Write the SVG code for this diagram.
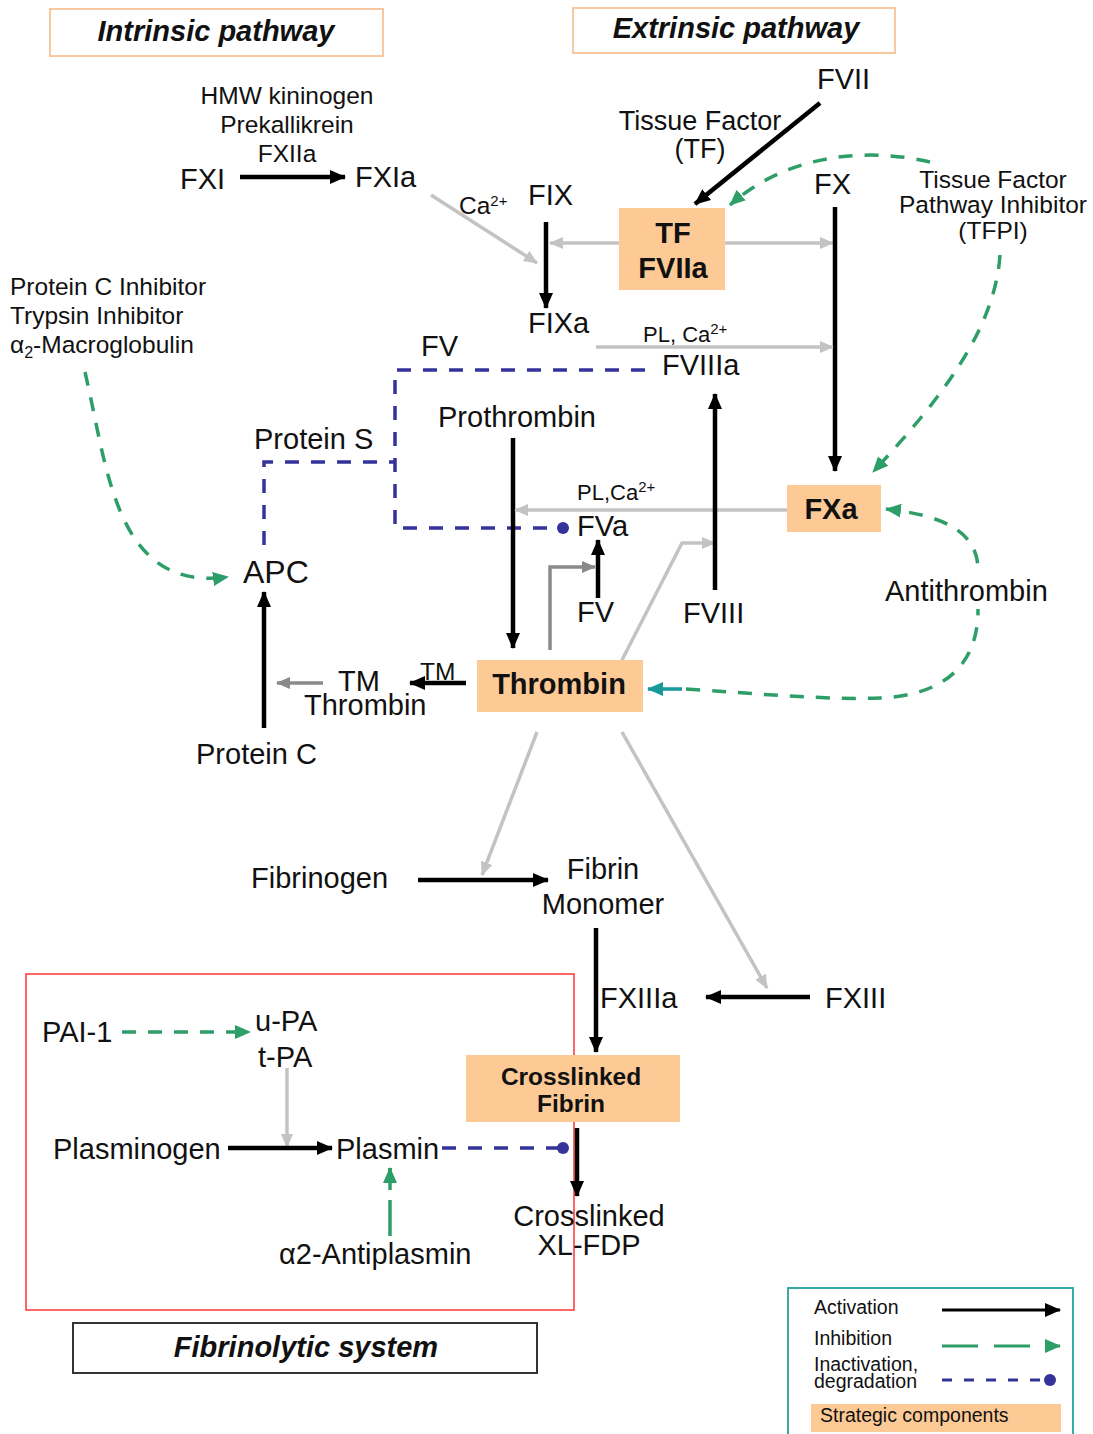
<svg xmlns="http://www.w3.org/2000/svg" width="1093" height="1434" viewBox="0 0 1093 1434">
<style>
text{font-family:"Liberation Sans",Arial,sans-serif;fill:#111}
.l{font-size:29px}
.m{font-size:24.5px}
.s{font-size:22px}
.b{font-weight:bold}
.t{font-size:29px;font-weight:bold;font-style:italic}
.lg{font-size:19.5px}
.node{fill:#fdca96}
.blk{stroke:#000;stroke-width:4.5;fill:none}
.gry{stroke:#c3c3c3;stroke-width:3.5;fill:none}
.dgry{stroke:#8a8a8a;stroke-width:3.5;fill:none}
.grn{stroke:#2e9e68;stroke-width:3.5;fill:none;stroke-dasharray:14 12}
.blu{stroke:#33339a;stroke-width:3.5;fill:none;stroke-dasharray:14 12}
</style>
<defs>
<marker id="ab" viewBox="0 0 16 16" refX="15" refY="8" markerWidth="16" markerHeight="16" markerUnits="userSpaceOnUse" orient="auto"><path d="M0,1 L16,8 L0,15 z" fill="#000"/></marker>
<marker id="ag" viewBox="0 0 14 14" refX="13" refY="7" markerWidth="14" markerHeight="14" markerUnits="userSpaceOnUse" orient="auto"><path d="M0,1 L14,7 L0,13 z" fill="#c3c3c3"/></marker>
<marker id="ad" viewBox="0 0 14 14" refX="13" refY="7" markerWidth="14" markerHeight="14" markerUnits="userSpaceOnUse" orient="auto"><path d="M0,1 L14,7 L0,13 z" fill="#8a8a8a"/></marker>
<marker id="an" viewBox="0 0 16 16" refX="15" refY="8" markerWidth="16" markerHeight="16" markerUnits="userSpaceOnUse" orient="auto"><path d="M0,1 L16,8 L0,15 z" fill="#2e9e68"/></marker>
<marker id="at" viewBox="0 0 16 16" refX="15" refY="8" markerWidth="16" markerHeight="16" markerUnits="userSpaceOnUse" orient="auto"><path d="M0,1 L16,8 L0,15 z" fill="#16999a"/></marker>
<marker id="dot" viewBox="0 0 12 12" refX="6" refY="6" markerWidth="12" markerHeight="12" markerUnits="userSpaceOnUse" orient="auto"><circle cx="6" cy="6" r="6" fill="#33339a"/></marker>
</defs>

<g id="titles">
<g id="intrinsic-title"><rect x="50" y="9" width="333" height="47" fill="#fff" stroke="#f8c9a0" stroke-width="2"/><text class="t" x="216" y="41" text-anchor="middle">Intrinsic pathway</text></g>
<g id="extrinsic-title"><rect x="573" y="8" width="322" height="45" fill="#fff" stroke="#f8c9a0" stroke-width="2"/><text class="t" x="736" y="38" text-anchor="middle">Extrinsic pathway</text></g>
<g id="fibrinolytic-box"><rect x="26" y="974" width="548" height="336" fill="none" stroke="#f33" stroke-width="1.5"/></g>
<g id="fibrinolytic-title"><rect x="73" y="1323" width="464" height="50" fill="#fff" stroke="#333" stroke-width="2"/><text class="t" x="306" y="1357" text-anchor="middle">Fibrinolytic system</text></g>
</g>

<g id="connectors">
<path class="blk" d="M240 177 H345" marker-end="url(#ab)"/>
<path class="gry" d="M431 195 L537 263" marker-end="url(#ag)"/>
<path class="blk" d="M546 222 V308" marker-end="url(#ab)"/>
<path class="gry" d="M619 243 H550" marker-end="url(#ag)"/>
<path class="gry" d="M725 243 H833" marker-end="url(#ag)"/>
<path class="blk" d="M820 103 L695 204" marker-end="url(#ab)"/>
<path class="blk" d="M835 207 V471" marker-end="url(#ab)"/>
<path class="grn" d="M930 162 C870 148 790 152 730 205" marker-end="url(#an)"/>
<path class="grn" d="M1000 255 C995 330 940 400 873 472" marker-end="url(#an)"/>
<path class="gry" d="M596 347 H833" marker-end="url(#ag)"/>
<path class="blu" d="M645 370 H395 V528 H563" marker-end="url(#dot)"/>
<path class="blu" d="M264 545 V462 H395"/>
<path class="blk" d="M513 438 V648" marker-end="url(#ab)"/>
<path class="gry" d="M787 510 H515" marker-end="url(#ag)"/>
<path class="blk" d="M598 598 V540" marker-end="url(#ab)"/>
<path class="dgry" d="M550 650 V567 H595" marker-end="url(#ad)"/>
<path class="gry" d="M622 660 L682 543 H715" marker-end="url(#ag)"/>
<path class="blk" d="M715 590 V394" marker-end="url(#ab)"/>
<path class="grn" d="M85 372 C108 470 115 592 228 577" marker-end="url(#an)"/>
<path class="blk" d="M264 728 V592" marker-end="url(#ab)"/>
<path class="blk" d="M466 683 H410" marker-end="url(#ab)"/>
<path class="dgry" d="M323 683 H277" marker-end="url(#ad)"/>
<path class="grn" d="M686 689 C760 694 830 700 880 698 C950 695 978 660 978 610 L978 570 C978 530 940 515 886 509" marker-end="url(#an)"/>
<path d="M682 689 H648" stroke="#16999a" stroke-width="3.5" fill="none" marker-end="url(#at)"/>
<path class="gry" d="M537 732 L482 875" marker-end="url(#ag)"/>
<path class="gry" d="M622 732 L767 988" marker-end="url(#ag)"/>
<path class="blk" d="M418 880 H548" marker-end="url(#ab)"/>
<path class="blk" d="M596 928 V1052" marker-end="url(#ab)"/>
<path class="blk" d="M810 997 H706" marker-end="url(#ab)"/>
<path class="grn" d="M122 1032 H250" marker-end="url(#an)"/>
<path class="gry" d="M287 1068 V1147" marker-end="url(#ag)"/>
<path class="blk" d="M228 1148 H332" marker-end="url(#ab)"/>
<path class="blu" d="M442 1148 H563" marker-end="url(#dot)"/>
<path class="blk" d="M577 1128 V1196" marker-end="url(#ab)"/>
<path d="M390 1236 V1200 M390 1190 V1168" stroke="#2e9e68" stroke-width="3.5" fill="none"/>
<path d="M390 1180 V1168" stroke="#2e9e68" stroke-width="3.5" fill="none" marker-end="url(#an)"/>
</g>

<g id="n-hmw"><text class="m" x="287" y="104" text-anchor="middle">HMW kininogen</text><text class="m" x="287" y="133" text-anchor="middle">Prekallikrein</text><text class="m" x="287" y="162" text-anchor="middle">FXIIa</text></g>
<g id="n-fxi"><text class="l" x="180" y="189">FXI</text></g>
<g id="n-fxia"><text class="l" x="355" y="187">FXIa</text></g>
<g id="n-ca"><text class="m" x="459" y="214">Ca<tspan font-size="15" dy="-8">2+</tspan></text></g>
<g id="n-fix"><text class="l" x="528" y="205">FIX</text></g>
<g id="n-fixa"><text class="l" x="528" y="333">FIXa</text></g>
<g id="n-fvii"><text class="l" x="817" y="89">FVII</text></g>
<g id="n-tf"><text x="700" y="130" text-anchor="middle" font-size="27">Tissue Factor</text><text x="700" y="158" text-anchor="middle" font-size="27">(TF)</text></g>
<g id="n-tffviia"><rect class="node" x="619" y="208" width="106" height="82"/><text class="l b" x="673" y="243" text-anchor="middle">TF</text><text class="l b" x="673" y="278" text-anchor="middle">FVIIa</text></g>
<g id="n-fx"><text class="l" x="814" y="194">FX</text></g>
<g id="n-tfpi"><text class="m" x="993" y="188" text-anchor="middle">Tissue Factor</text><text class="m" x="993" y="213" text-anchor="middle">Pathway Inhibitor</text><text class="m" x="993" y="239" text-anchor="middle">(TFPI)</text></g>
<g id="n-plca1"><text class="s" x="643" y="342">PL, Ca<tspan font-size="15" dy="-8">2+</tspan></text></g>
<g id="n-fviiia"><text class="l" x="662" y="375">FVIIIa</text></g>
<g id="n-fv-top"><text class="l" x="421" y="356">FV</text></g>
<g id="n-inhib"><text class="m" x="10" y="295">Protein C Inhibitor</text><text class="m" x="10" y="324">Trypsin Inhibitor</text><text class="m" x="10" y="353">α<tspan font-size="16" dy="5">2</tspan><tspan dy="-5">-Macroglobulin</tspan></text></g>
<g id="n-proteins"><text class="l" x="254" y="449">Protein S</text></g>
<g id="n-prothrombin"><text class="l" x="438" y="427">Prothrombin</text></g>
<g id="n-plca2"><text class="s" x="577" y="500">PL,Ca<tspan font-size="15" dy="-8">2+</tspan></text></g>
<g id="n-fxa"><rect class="node" x="787" y="485" width="94" height="47"/><text class="l b" x="831" y="519" text-anchor="middle">FXa</text></g>
<g id="n-fva"><text class="l" x="577" y="536">FVa</text></g>
<g id="n-fv"><text class="l" x="577" y="622">FV</text></g>
<g id="n-fviii"><text class="l" x="683" y="623">FVIII</text></g>
<g id="n-apc"><text x="243" y="583" font-size="32">APC</text></g>
<g id="n-antithrombin"><rect x="884" y="575" width="166" height="34" fill="#fff"/><text class="l" x="885" y="601">Antithrombin</text></g>
<g id="n-thrombin"><rect class="node" x="477" y="660" width="166" height="52"/><text class="l b" x="559" y="694" text-anchor="middle">Thrombin</text></g>
<g id="n-tm"><text class="m" x="420" y="680">TM</text></g>
<g id="n-tmthrombin"><text class="l" x="338" y="691">TM</text><text class="l" x="304" y="715">Thrombin</text></g>
<g id="n-proteinc"><text class="l" x="196" y="764">Protein C</text></g>
<g id="n-fibrinogen"><text class="l" x="251" y="888">Fibrinogen</text></g>
<g id="n-fibrinmono"><text class="l" x="603" y="879" text-anchor="middle">Fibrin</text><text class="l" x="603" y="914" text-anchor="middle">Monomer</text></g>
<g id="n-fxiiia"><text class="l" x="600" y="1008">FXIIIa</text></g>
<g id="n-fxiii"><text class="l" x="825" y="1008">FXIII</text></g>
<g id="n-crossfibrin"><rect class="node" x="466" y="1055" width="214" height="67"/><text class="b" x="571" y="1085" text-anchor="middle" font-size="24.5">Crosslinked</text><text class="b" x="571" y="1112" text-anchor="middle" font-size="24.5">Fibrin</text></g>
<g id="n-pai"><text class="l" x="42" y="1042">PAI-1</text></g>
<g id="n-pa"><text class="l" x="255" y="1031">u-PA</text><text class="l" x="258" y="1067">t-PA</text></g>
<g id="n-plasminogen"><text class="l" x="53" y="1159">Plasminogen</text></g>
<g id="n-plasmin"><text class="l" x="336" y="1159">Plasmin</text></g>
<g id="n-xlfdp"><text class="l" x="589" y="1226" text-anchor="middle">Crosslinked</text><text class="l" x="589" y="1255" text-anchor="middle">XL-FDP</text></g>
<g id="n-antiplasmin"><text class="l" x="279" y="1264">α2-Antiplasmin</text></g>

<g id="legend">
<rect x="788" y="1288" width="285" height="160" fill="#fff" stroke="#3aa9a9" stroke-width="2"/>
<text class="lg" x="814" y="1314">Activation</text>
<path d="M942 1310 H1060" stroke="#000" stroke-width="3" marker-end="url(#ab)"/>
<text class="lg" x="814" y="1345">Inhibition</text>
<path d="M942 1346 H1060" stroke="#2e9e68" stroke-width="3" stroke-dasharray="36 16" marker-end="url(#an)"/>
<text class="lg" x="814" y="1371">Inactivation,</text>
<text class="lg" x="814" y="1388">degradation</text>
<path d="M942 1380 H1050" stroke="#33339a" stroke-width="3" stroke-dasharray="10 12" marker-end="url(#dot)"/>
<rect class="node" x="811" y="1404" width="250" height="28"/>
<text class="lg" x="820" y="1422">Strategic components</text>
</g>
</svg>
